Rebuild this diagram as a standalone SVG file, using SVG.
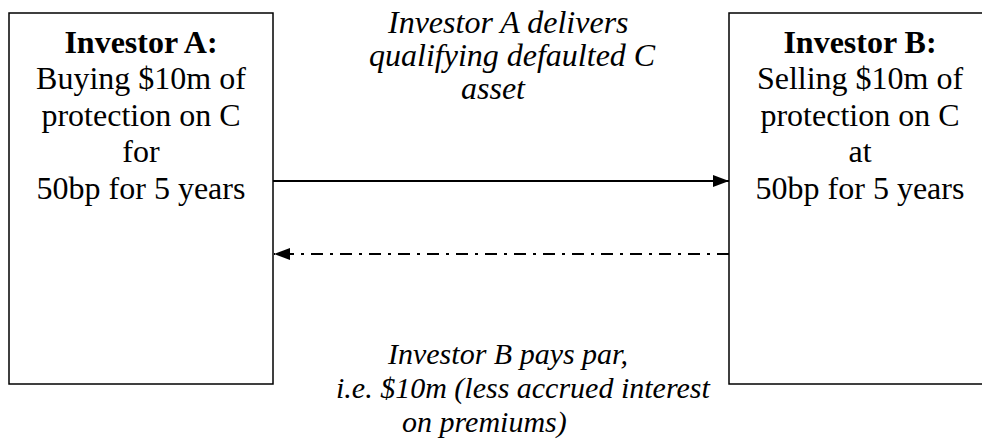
<svg xmlns="http://www.w3.org/2000/svg" width="982" height="442" viewBox="0 0 982 442">
<style>
.box{fill:#fff;stroke:#000;stroke-width:1.5}
.t{font-family:"Liberation Serif","Times New Roman",serif;font-size:32px;fill:#000}
.s{font-size:30px}
.c{text-anchor:middle}
.b{font-weight:bold}
.i{font-style:italic}
.ln{stroke:#000;stroke-width:2;fill:none}
</style>
<defs>
<marker id="ah" viewBox="0 0 16 12" refX="16" refY="6" markerWidth="16" markerHeight="12" markerUnits="userSpaceOnUse" orient="auto">
<path d="M0,0 L16,6 L0,12 Z" fill="#000"/>
</marker>
</defs>
<g id="investorA">
<rect class="box" x="9" y="13" width="264" height="371"/>
<text class="t c b" x="141" y="53">Investor A:</text>
<text class="t c" x="141" y="89">Buying $10m of</text>
<text class="t c" x="141" y="126">protection on C</text>
<text class="t c" x="141" y="162">for</text>
<text class="t c" x="141" y="199">50bp for 5 years</text>
</g>
<g id="investorB">
<rect class="box" x="729" y="13" width="264" height="371"/>
<text class="t c b" x="860" y="53">Investor B:</text>
<text class="t c" x="860" y="89">Selling $10m of</text>
<text class="t c" x="860" y="126">protection on C</text>
<text class="t c" x="860" y="162">at</text>
<text class="t c" x="860" y="199">50bp for 5 years</text>
</g>
<g id="connectors">
<line class="ln" x1="273" y1="181" x2="729" y2="181" marker-end="url(#ah)"/>
<line class="ln" x1="729" y1="254" x2="274" y2="254" stroke-dasharray="12 7 3 7" marker-end="url(#ah)"/>
</g>
<g id="labels">
<text class="t i" x="388" y="33">Investor A delivers</text>
<text class="t i" x="369" y="66">qualifying defaulted C</text>
<text class="t i" x="461" y="99">asset</text>
<text class="t i s" x="388" y="364">Investor B pays par,</text>
<text class="t i s" x="336" y="398">i.e. $10m (less accrued interest</text>
<text class="t i s" x="402" y="432">on premiums)</text>
</g>
</svg>
